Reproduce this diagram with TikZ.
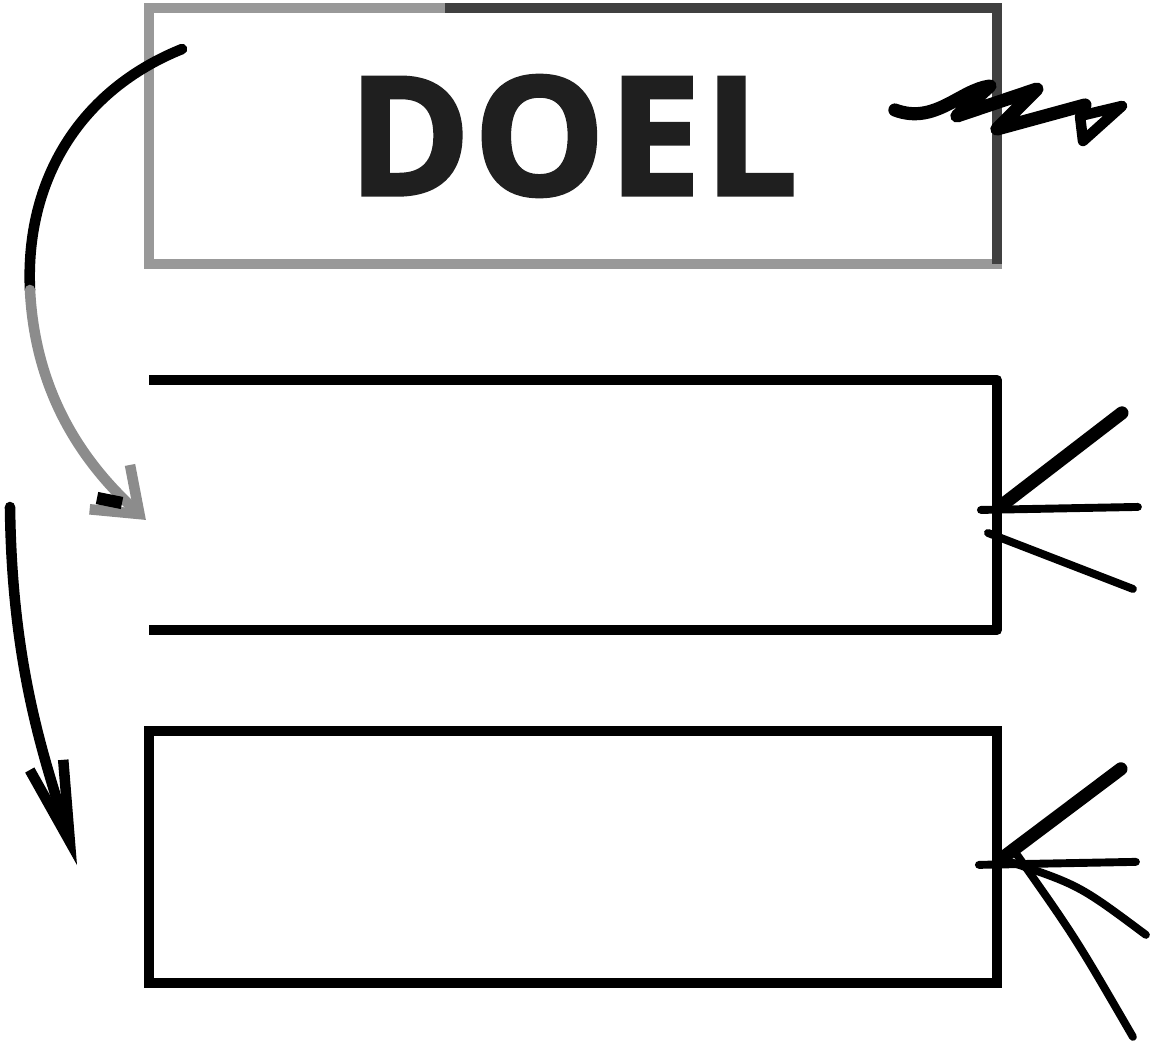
\documentclass[tikz,border=0pt]{standalone}
\usepackage{fontspec}
\setmainfont{Open Sans}
\usetikzlibrary{positioning, arrows.meta}

\begin{document}
\begin{tikzpicture}[x=0.02cm, y=-0.02cm, % one unit is one pixel of the sketch, y runs down
  >={Straight Barb}, % open v-shaped heads
  outer sep=0pt,
  goal/.style={draw=black!40, line width=5.5pt, minimum width=16.96cm, minimum height=5.12cm, inner sep=0pt}, % the top box
  frame/.style={minimum width=16.96cm, minimum height=5cm, inner sep=0pt}, % the lower boxes
  pen/.style={line width=6pt, line cap=round, line join=round},
  ray/.style={line width=4.5pt, line cap=round}, % the short strokes on the right
]
  \useasboundingbox (0,0) rectangle (1153,1052);

  \node[goal, text=black!88, font=\fontsize{94}{94}\selectfont\bfseries\addfontfeature{FakeBold=2, LetterSpace=2}] (doel) at (573,136) {DOEL};
  \node[frame, below=2.32cm of doel] (step1) {};
  \node[frame, draw, line width=6pt, minimum height=5.04cm, below=2.02cm of step1] (step2) {};

  % darker stroke on the right half of the goal
  \draw[black!75, line width=5.5pt] ([shift={(-128,0)}]doel.north) -- (doel.north east) -- (doel.south east);

  % middle box is open on the left
  \draw[pen, line cap=butt] (step1.north west) -- (step1.north east) -- (step1.south east) -- (step1.south west);

  % arrows on the left
  \coordinate[shift={(33,41)}] (a0) at (doel.north west);
  \coordinate (a1) at (30,290);
  \coordinate[shift={(-851,15)}] (a2) at (step1.east);
  \draw[pen] (a0) .. controls (80,90) and (25,180) .. (a1);
  \draw[pen, black!45, ->, arrows={-Straight Barb[length=0.8cm, width=1.2cm]}] (a1) .. controls (35,390) and (80,460) .. (a2);
  \draw[line width=7pt] (97,498) -- (122,503);

  \coordinate (b0) at (10,507);
  \coordinate (b1) at (77,865);
  \draw[pen, ->, arrows={-Straight Barb[length=1.6cm, width=0.7cm]}] (b0) .. controls (12,670) and (45,760) .. (b1);

  % squiggle out of the goal
  \draw[line width=7.5pt, line cap=round, line join=round]
    ([shift={(-102,-26)}]doel.east) .. controls +(40,15) and +(-30,4) .. ++(95,-24)
    -- ++(-33,30) -- ++(80,-27) -- ++(-40,40) -- ++(88,-24);
  \draw[line width=6pt, line join=round] (1080,116) -- (1122,106) -- (1083,141) -- cycle;

  % rays at the middle box
  \draw[ray, line width=7.5pt] ([shift={(8,-2)}]step1.east) -- ++(117,-90);
  \draw[ray] ([shift={(-16,5)}]step1.east) -- ++(157,-3);
  \draw[ray] ([shift={(-9,28)}]step1.east) -- ++(145,56);

  % rays at the bottom box
  \draw[ray, line width=7.5pt] ([shift={(7,0)}]step2.east) -- ++(117,-88);
  \draw[ray] ([shift={(-18,8)}]step2.east) -- ++(157,-3);
  \draw[ray] ([shift={(7,3)}]step2.east) .. controls +(75,25) .. ++(142,75);
  \draw[ray] ([shift={(18,-5)}]step2.east) .. controls +(60,85) .. ++(118,185);
\end{tikzpicture}
\end{document}
